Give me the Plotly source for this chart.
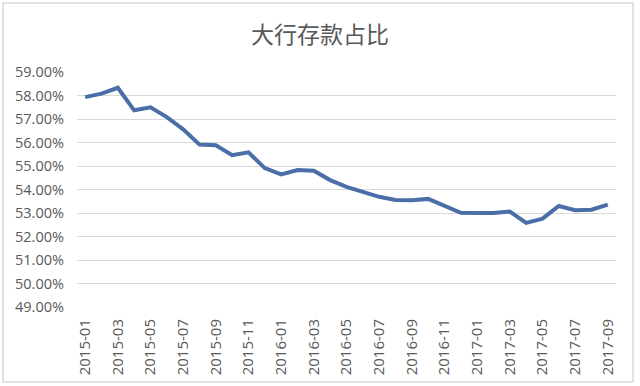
import plotly.graph_objects as go

months = [
    "2015-01", "2015-02", "2015-03", "2015-04", "2015-05", "2015-06", "2015-07", "2015-08",
    "2015-09", "2015-10", "2015-11", "2015-12", "2016-01", "2016-02", "2016-03", "2016-04",
    "2016-05", "2016-06", "2016-07", "2016-08", "2016-09", "2016-10", "2016-11", "2016-12",
    "2017-01", "2017-02", "2017-03", "2017-04", "2017-05", "2017-06", "2017-07", "2017-08",
    "2017-09",
]
share = [
    57.93, 58.08, 58.33, 57.37, 57.50, 57.08, 56.56, 55.91,
    55.88, 55.46, 55.58, 54.91, 54.64, 54.83, 54.80, 54.40,
    54.11, 53.92, 53.69, 53.55, 53.54, 53.60, 53.29, 53.01,
    53.00, 53.00, 53.06, 52.58, 52.76, 53.30, 53.12, 53.14,
    53.36,
]
y_ticks = [49, 50, 51, 52, 53, 54, 55, 56, 57, 58, 59]
y_tick_text = [f"{v:.2f}%" for v in y_ticks]
x_ticks = months[::2]

fig = go.Figure()
fig.add_trace(go.Scatter(
    x=list(range(len(months))), y=share, mode="lines",
    line=dict(color="#4a6ea8", width=4), hoverinfo="x+y",
))

fig.update_layout(
    width=640, height=386,
    margin=dict(l=77, r=24, t=72, b=79, autoexpand=False),
    paper_bgcolor="white", plot_bgcolor="white",
    showlegend=False,
    title=dict(text="大行存款占比", x=0.5, xref="container", xanchor="center",
               y=1 - 35 / 386, yref="container", yanchor="middle",
               font=dict(family="Noto Sans CJK SC", size=23, color="#595959")),
    font=dict(family="Open Sans", size=14, color="#595959"),
    xaxis=dict(
        range=[-0.5, len(months) - 0.5],
        tickmode="array",
        tickvals=[months.index(m) for m in x_ticks],
        ticktext=x_ticks,
        tickangle=-90,
        automargin=False,
        showgrid=False, zeroline=False,
        showline=False,
        ticks="", ticklabelstandoff=8,
        tickfont=dict(family="Open Sans", size=15, color="#595959"),
    ),
    yaxis=dict(
        range=[49, 59],
        automargin=False,
        tickmode="array", tickvals=y_ticks, ticktext=y_tick_text,
        showgrid=True, gridcolor="#d9d9d9", gridwidth=1,
        zeroline=False, showline=False, ticks="",
        ticklabelstandoff=12,
        tickfont=dict(family="Open Sans", size=14.5, color="#595959"),
    ),
    shapes=[dict(
        type="rect", xref="paper", yref="paper",
        x0=(3 - 77) / 539, x1=(633 - 77) / 539,
        y0=(307 - 382) / 235, y1=(307 - 3) / 235,
        line=dict(color="#d9d9d9", width=1.5), fillcolor="rgba(0,0,0,0)",
        layer="below",
    )],
)

fig.write_html("out.html", config={"displayModeBar": False},
               post_script="document.body.style.margin='0';")
